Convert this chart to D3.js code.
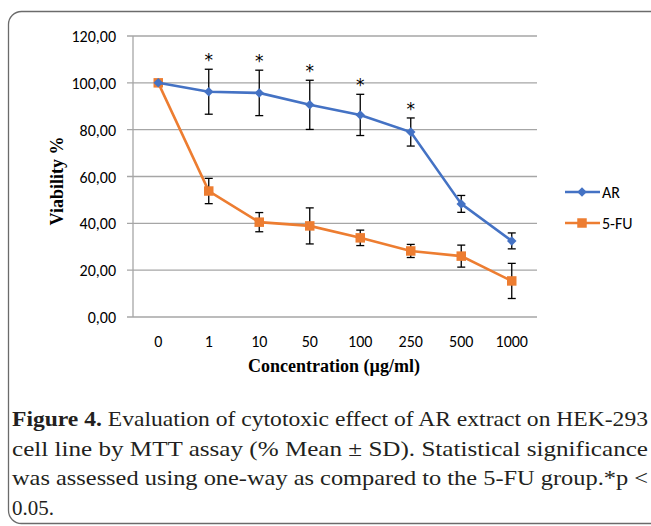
<!DOCTYPE html>
<html>
<head>
<meta charset="utf-8">
<script src="https://cdn.jsdelivr.net/npm/d3@7"></script>
<style>
body { margin: 0; background: #fff; }
svg { display: block; }
</style>
</head>
<body>
<div id="chart"></div>
<script>
var width = 651, height = 526;

// data
var concentrations = ["0", "1", "10", "50", "100", "250", "500", "1000"];
var arMean  = [100, 96.2, 95.7, 90.6, 86.3, 79.0, 48.3, 32.5];
var arSd    = [0, 9.6, 9.7, 10.5, 8.8, 6.0, 3.6, 3.4];
var fuMean  = [100, 53.8, 40.5, 38.9, 33.8, 28.2, 26.0, 15.4];
var fuSd    = [0, 5.4, 4.1, 7.7, 3.3, 2.8, 4.7, 7.5];
var starred = [false, true, true, true, true, true, false, false];
var yTicks  = [0, 20, 40, 60, 80, 100, 120];
var captionLines = [
  "Evaluation of cytotoxic effect of AR extract on HEK-293",
  "cell line by MTT assay (% Mean \u00b1 SD). Statistical significance",
  "was assessed using one-way as compared to the 5-FU group.*p <",
  "0.05."
];

var svg = d3.select("#chart").append("svg").attr("width", width).attr("height", height);

// rounded frame
svg.append("rect")
  .attr("x", 8.5).attr("y", 11.5)
  .attr("width", 700).attr("height", 512)
  .attr("rx", 13).attr("ry", 13)
  .attr("fill", "none").attr("stroke", "#6b6b6b").attr("stroke-width", 1.3);

var x = d3.scaleBand().domain(concentrations).range([133, 537]);
var y = d3.scaleLinear().domain([0, 120]).range([317, 36]);

var tickFont = "Carlito, Lato, 'Open Sans', sans-serif";
var serif = "'Liberation Serif', 'Times New Roman', serif";

// gridlines
svg.append("g").selectAll("line").data(yTicks).enter().append("line")
  .attr("x1", 127).attr("x2", 537)
  .attr("y1", function(d){ return y(d); }).attr("y2", function(d){ return y(d); })
  .attr("stroke", "#a6a6a6").attr("stroke-width", 1.3);

// y axis line
svg.append("line").attr("x1", 133).attr("x2", 133).attr("y1", y(120)).attr("y2", y(0))
  .attr("stroke", "#a6a6a6").attr("stroke-width", 1.3);

// y tick labels
svg.append("g").selectAll("text").data(yTicks).enter().append("text")
  .attr("x", 116).attr("y", function(d){ return y(d) + 6; })
  .attr("text-anchor", "end")
  .attr("font-family", tickFont).attr("font-size", 16).attr("fill", "#000")
  .text(function(d){ return d3.format(".2f")(d).replace(".", ","); });

// x tick labels
svg.append("g").selectAll("text").data(concentrations).enter().append("text")
  .attr("x", function(d){ return x(d) + x.bandwidth() / 2; })
  .attr("y", 347)
  .attr("text-anchor", "middle")
  .attr("font-family", tickFont).attr("font-size", 16).attr("fill", "#000")
  .text(function(d){ return d; });

// axis titles
svg.append("text")
  .attr("transform", "translate(63,181) rotate(-90)")
  .attr("text-anchor", "middle")
  .attr("font-family", serif).attr("font-weight", "bold").attr("font-size", 18)
  .text("Viability %");

svg.append("text")
  .attr("x", 334).attr("y", 372)
  .attr("text-anchor", "middle")
  .attr("font-family", serif).attr("font-weight", "bold").attr("font-size", 18)
  .text("Concentration (\u00b5g/ml)");

var cx = function(d, i){ return x(concentrations[i]) + x.bandwidth() / 2; };

function drawSeries(mean, sd, color, square) {
  var line = d3.line().x(function(d, i){ return cx(d, i); }).y(function(d){ return y(d); });
  svg.append("path").datum(mean)
    .attr("d", line).attr("fill", "none").attr("stroke", color).attr("stroke-width", 2.6);

  var bars = svg.append("g");
  mean.forEach(function(m, i) {
    if (!sd[i]) return;
    var px = cx(m, i);
    bars.append("line").attr("x1", px).attr("x2", px).attr("y1", y(m + sd[i])).attr("y2", y(m - sd[i]))
      .attr("stroke", "#000").attr("stroke-width", 1.3);
    [m + sd[i], m - sd[i]].forEach(function(v) {
      bars.append("line").attr("x1", px - 4).attr("x2", px + 4).attr("y1", y(v)).attr("y2", y(v))
        .attr("stroke", "#000").attr("stroke-width", 1.3);
    });
  });

  svg.append("g").selectAll("path").data(mean).enter().append("path")
    .attr("transform", function(d, i){
      var t = "translate(" + cx(d, i) + "," + y(d) + ")";
      return square ? t : t + " rotate(45)";
    })
    .attr("d", d3.symbol().type(d3.symbolSquare).size(square ? 90 : 45)())
    .attr("fill", color);
}

drawSeries(fuMean, fuSd, "#ed7d31", true);
drawSeries(arMean, arSd, "#4472c4", false);

// significance stars
svg.append("g").selectAll("text")
  .data(arMean.map(function(m, i){ return {m: m, i: i}; }).filter(function(d){ return starred[d.i]; }))
  .enter().append("text")
  .attr("x", function(d){ return cx(d.m, d.i); })
  .attr("y", function(d){ return y(d.m + arSd[d.i]) - 3; })
  .attr("text-anchor", "middle")
  .attr("font-family", "'DejaVu Sans', sans-serif").attr("font-size", 17)
  .text("*");

// legend
var legend = [
  {name: "AR", color: "#4472c4", sq: false, y: 192},
  {name: "5-FU", color: "#ed7d31", sq: true, y: 223}
];
legend.forEach(function(l) {
  svg.append("line").attr("x1", 565).attr("x2", 600).attr("y1", l.y).attr("y2", l.y)
    .attr("stroke", l.color).attr("stroke-width", 2.6);
  svg.append("path")
    .attr("transform", "translate(582," + l.y + ")" + (l.sq ? "" : " rotate(45)"))
    .attr("d", d3.symbol().type(d3.symbolSquare).size(l.sq ? 90 : 45)())
    .attr("fill", l.color);
  svg.append("text").attr("x", 602).attr("y", l.y + 6)
    .attr("font-family", tickFont).attr("font-size", 16).text(l.name);
});

// caption, justified lines
var cap = svg.append("g").attr("font-family", serif).attr("font-size", 21).attr("fill", "#231f20");
var capEnds = [648, 648, 648, null];
captionLines.forEach(function(t, i) {
  var tx = cap.append("text").attr("x", 12).attr("y", 426 + i * 29.5);
  if (i === 0) {
    tx.append("tspan").attr("font-weight", "bold").text("Figure 4. ");
  }
  tx.append("tspan").text(t);
  if (capEnds[i]) tx.attr("textLength", capEnds[i] - 12).attr("lengthAdjust", "spacingAndGlyphs");
});
</script>
</body>
</html>
